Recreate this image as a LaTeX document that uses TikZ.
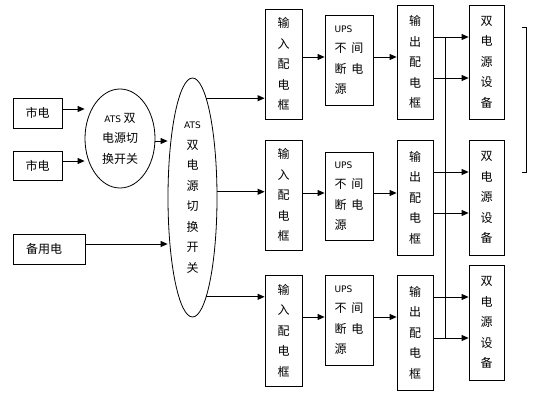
\documentclass[tikz,border=0pt]{standalone}
\usepackage{fontspec}
\setmainfont{Noto Sans CJK SC}
\newfontfamily\latfont{DejaVu Sans}
\usetikzlibrary{shapes.geometric,arrows.meta}

\tikzstyle{blk}=[draw,line width=0.8pt,inner sep=0pt,align=center,font=\fontsize{12}{20.5}\selectfont]
\tikzstyle{ell}=[blk,ellipse]
\tikzstyle{arr}=[line width=0.8pt,-{Triangle[length=7pt,width=6pt]}]
\tikzstyle{lin}=[line width=0.8pt]
\newcommand{\lat}[1]{{\latfont\fontsize{9}{10}\selectfont #1}}

\begin{document}
\begin{tikzpicture}[x=1pt,y=-1pt]
        \useasboundingbox (0,0) rectangle (538,405);
        % sources and switches
        \draw (37.5,113) node[blk,minimum width=49pt,minimum height=30pt](sd1){市电};
        \draw (37.5,165.5) node[blk,minimum width=49pt,minimum height=29pt](sd2){市电};
        \draw (49,249) node[blk,minimum width=72pt,minimum height=30pt](bak){\hspace*{-10pt}备用电};
        \draw (120,138.5) node[ell,minimum width=70pt,minimum height=99pt](ats1){\lat{ATS}\ 双\\电源切\\换开关};
        \draw (192.5,197.5) node[ell,minimum width=49pt,minimum height=239pt](ats2){\lat{ATS}\\双\\电\\源\\切\\换\\开\\关};
        %
        \draw (283.5,64) node[blk,minimum width=37pt,minimum height=110pt](in1){输\\入\\配\\电\\框};
        \draw (283.5,195) node[blk,minimum width=37pt,minimum height=110pt](in2){输\\入\\配\\电\\框};
        \draw (283.5,330.5) node[blk,minimum width=37pt,minimum height=111pt](in3){输\\入\\配\\电\\框};
        \draw (349,60) node[blk,align=left,minimum width=48pt,minimum height=90pt](ups1){\lat{UPS}\\不\hspace{5pt}间\\断\hspace{5pt}电\\源};
        \draw (349,196) node[blk,align=left,minimum width=48pt,minimum height=88pt](ups2){\lat{UPS}\\不\hspace{5pt}间\\断\hspace{5pt}电\\源};
        \draw (349,320) node[blk,align=left,minimum width=48pt,minimum height=90pt](ups3){\lat{UPS}\\不\hspace{5pt}间\\断\hspace{5pt}电\\源};
        \draw (415,62) node[blk,minimum width=36pt,minimum height=114pt](out1){输\\出\\配\\电\\框};
        \draw (415,197.5) node[blk,minimum width=36pt,minimum height=115pt](out2){输\\出\\配\\电\\框};
        \draw (415,332.5) node[blk,minimum width=36pt,minimum height=115pt](out3){输\\出\\配\\电\\框};
        \draw (486.5,62) node[blk,minimum width=35pt,minimum height=114pt](dev1){双\\电\\源\\设\\备};
        \draw (486.5,197.5) node[blk,minimum width=35pt,minimum height=115pt](dev2){双\\电\\源\\设\\备};
        \draw (486.5,322.5) node[blk,minimum width=35pt,minimum height=115pt](dev3){双\\电\\源\\设\\备};
        %
        \coordinate (bustop) at (445,37);
        \coordinate (busbot) at (445,338);
        \path
            (sd1.east |- 0,109)     edge[arr]     (ats1.west |- 0,109)
            (sd2.east |- 0,161)     edge[arr]     (ats1.west |- 0,161)
            (ats1.east |- 0,141)    edge[arr]     (ats2.west |- 0,141)
            (bak.east |- 0,244)     edge[arr]     (ats2.west |- 0,244)
            (ats2.82)               edge[arr]     (in1.west |- ats2.82)
            (ats2.13)               edge[arr]     (in2.west |- ats2.13)
            (ats2.-82)              edge[arr]     (in3.west |- ats2.-82)
            (in1.east |- 0,57)      edge[arr]     (ups1.west |- 0,57)
            (ups1.east |- 0,57)     edge[arr]     (out1.west |- 0,57)
            (in2.east |- 0,193)     edge[arr]     (ups2.west |- 0,193)
            (ups2.east |- 0,193)    edge[arr]     (out2.west |- 0,193)
            (in3.east |- 0,317)     edge[arr]     (ups3.west |- 0,317)
            (ups3.east |- 0,317)    edge[arr]     (out3.west |- 0,317)
            (out1.east |- 0,37)     edge[arr]     (dev1.west |- 0,37)
            (out1.east |- 0,78)     edge[arr]     (dev1.west |- 0,78)
            (out2.east |- 0,172)    edge[arr]     (dev2.west |- 0,172)
            (out2.east |- 0,213)    edge[arr]     (dev2.west |- 0,213)
            (out3.east |- 0,297)    edge[arr]     (dev3.west |- 0,297)
            (out3.east |- 0,338)    edge[arr]     (dev3.west |- 0,338)
            (bustop)                edge[lin]     (busbot)
        ;
        % bracket
        \draw[lin] (522,27) -- (526,27) -- (526,172) -- (522,172);
        %;
\end{tikzpicture}
\end{document}
